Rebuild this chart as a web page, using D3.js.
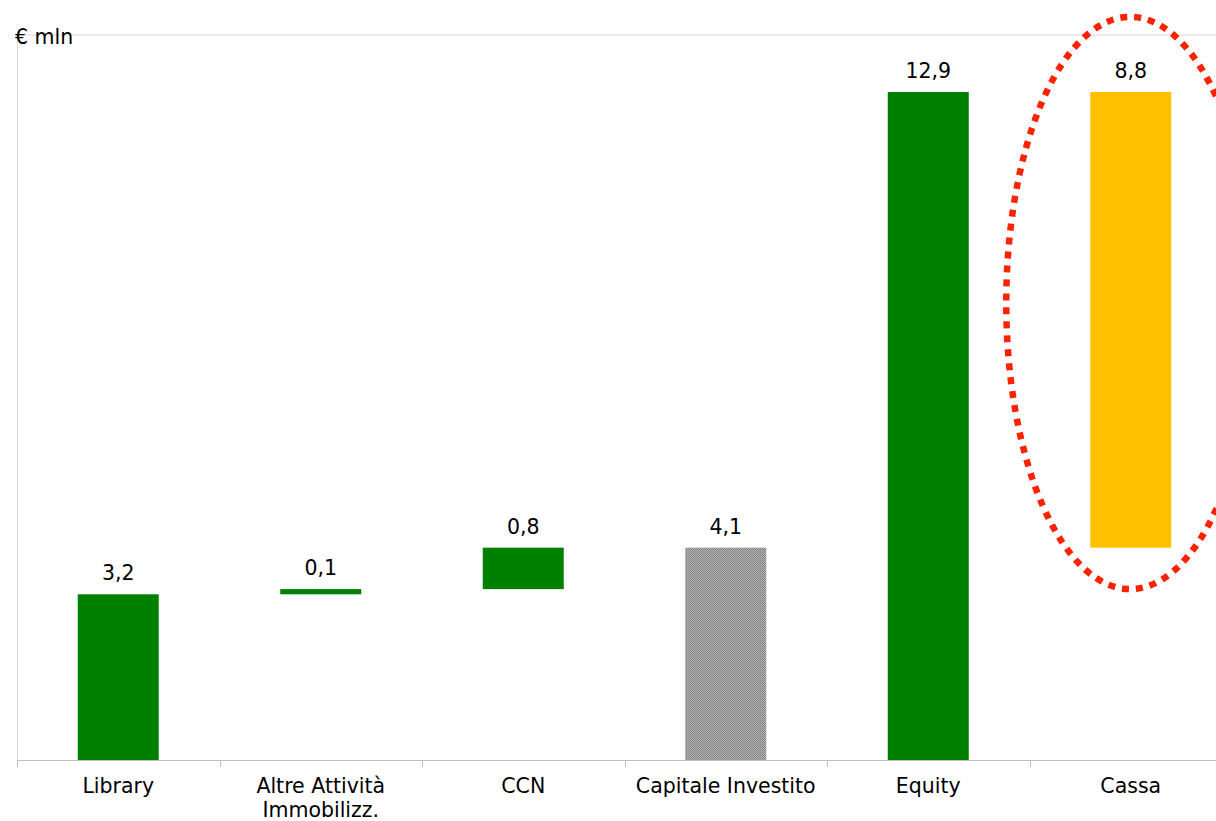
<!DOCTYPE html>
<html>
<head>
<meta charset="utf-8">
<script src="https://cdn.jsdelivr.net/npm/d3@7"></script>
<style>
  html, body { margin: 0; padding: 0; background: #fff; }
  svg { display: block; }
  text { font-family: "DejaVu Sans", Verdana, sans-serif; fill: #000; }
</style>
</head>
<body>
<svg id="chart" width="1216" height="821"></svg>
<script>
// Waterfall: invested capital build-up vs. equity and cash (€ mln)
const categories = ["Library", "Altre Attività\nImmobilizz.", "CCN", "Capitale Investito", "Equity", "Cassa"];
const barStart   = [0,   3.2, 3.3, 0,   0,    4.1];
const barEnd     = [3.2, 3.3, 4.1, 4.1, 12.9, 12.9];
const valueLabels = ["3,2", "0,1", "0,8", "4,1", "12,9", "8,8"];
const barKinds   = ["step", "step", "step", "total", "step", "cash"];
const yTicks = [14];

const svg = d3.select("#chart");
const margin = { left: 17, top: 35, bottom: 61 };
const W = 1216, H = 821;
const step = 202.5;
const fontSize = 20.5;

const x = d3.scaleBand()
  .domain(categories)
  .range([margin.left, margin.left + step * categories.length])
  .padding(0);
const y = d3.scaleLinear().domain([0, 14]).range([H - margin.bottom, margin.top]);

// dotted grey fill for the total bar
const defs = svg.append("defs");
const pat = defs.append("pattern")
  .attr("id", "dots").attr("width", 2).attr("height", 2)
  .attr("patternUnits", "userSpaceOnUse");
pat.append("rect").attr("width", 2).attr("height", 2).attr("fill", "#b4b4b4");
pat.append("rect").attr("width", 1).attr("height", 1).attr("fill", "#7a7a7a");
pat.append("rect").attr("x", 1).attr("y", 1).attr("width", 1).attr("height", 1).attr("fill", "#8c8c8c");

// gridline at the top value
svg.append("g").selectAll("line").data(yTicks).join("line")
  .attr("x1", margin.left).attr("x2", W)
  .attr("y1", d => y(d)).attr("y2", d => y(d))
  .attr("stroke", "#d9d9d9").attr("stroke-width", 1);

// left axis line
svg.append("line")
  .attr("x1", margin.left + 0.5).attr("x2", margin.left + 0.5)
  .attr("y1", y(14)).attr("y2", y(0))
  .attr("stroke", "#d9d9d9");

svg.append("text")
  .attr("x", 15).attr("y", 44)
  .attr("font-size", fontSize)
  .text("€ mln");

const fills = { step: "#008000", total: "url(#dots)", cash: "#ffc000" };

const data = categories.map((c, i) => ({
  c, s: barStart[i], e: barEnd[i], label: valueLabels[i], kind: barKinds[i]
}));

const barW = x.bandwidth() * 0.4;

svg.append("g").selectAll("rect").data(data).join("rect")
  .attr("x", d => x(d.c) + (x.bandwidth() - barW) / 2)
  .attr("width", barW)
  .attr("y", d => y(Math.max(d.s, d.e)))
  .attr("height", d => Math.max(4, Math.abs(y(d.s) - y(d.e))))
  .attr("fill", d => fills[d.kind]);

svg.append("g").selectAll("text").data(data).join("text")
  .attr("x", d => x(d.c) + x.bandwidth() / 2)
  .attr("y", d => y(Math.max(d.s, d.e)) - 14)
  .attr("text-anchor", "middle")
  .attr("font-size", fontSize)
  .text(d => d.label);

// x axis
const xAxis = svg.append("g").attr("transform", `translate(0,${y(0)})`);
xAxis.append("line")
  .attr("x1", margin.left).attr("x2", W)
  .attr("y1", 0.5).attr("y2", 0.5)
  .attr("stroke", "#bfbfbf");
xAxis.selectAll("line.tick").data(categories).join("line")
  .attr("class", "tick")
  .attr("x1", d => Math.round(x(d)) + 0.5).attr("x2", d => Math.round(x(d)) + 0.5)
  .attr("y1", 0).attr("y2", 7)
  .attr("stroke", "#bfbfbf");

const labels = xAxis.selectAll("text").data(categories).join("text")
  .attr("x", d => x(d) + x.bandwidth() / 2)
  .attr("y", 33)
  .attr("text-anchor", "middle")
  .attr("font-size", fontSize);
labels.each(function(d) {
  const t = d3.select(this);
  d.split("\n").forEach((line, i) => {
    t.append("tspan")
      .attr("x", x(d) + x.bandwidth() / 2)
      .attr("dy", i === 0 ? 0 : 24)
      .text(line);
  });
});

// dotted highlight around the cash bar
const cx = x("Cassa") + x.bandwidth() / 2;
const yTop = y(14.35), yBottom = y(3.3);
svg.append("ellipse")
  .attr("cx", cx - 0.5).attr("cy", (yTop + yBottom) / 2)
  .attr("rx", 124).attr("ry", (yBottom - yTop) / 2)
  .attr("fill", "none")
  .attr("stroke", "#ff2200")
  .attr("stroke-width", 6.5)
  .attr("stroke-dasharray", "7 7");
</script>
</body>
</html>
